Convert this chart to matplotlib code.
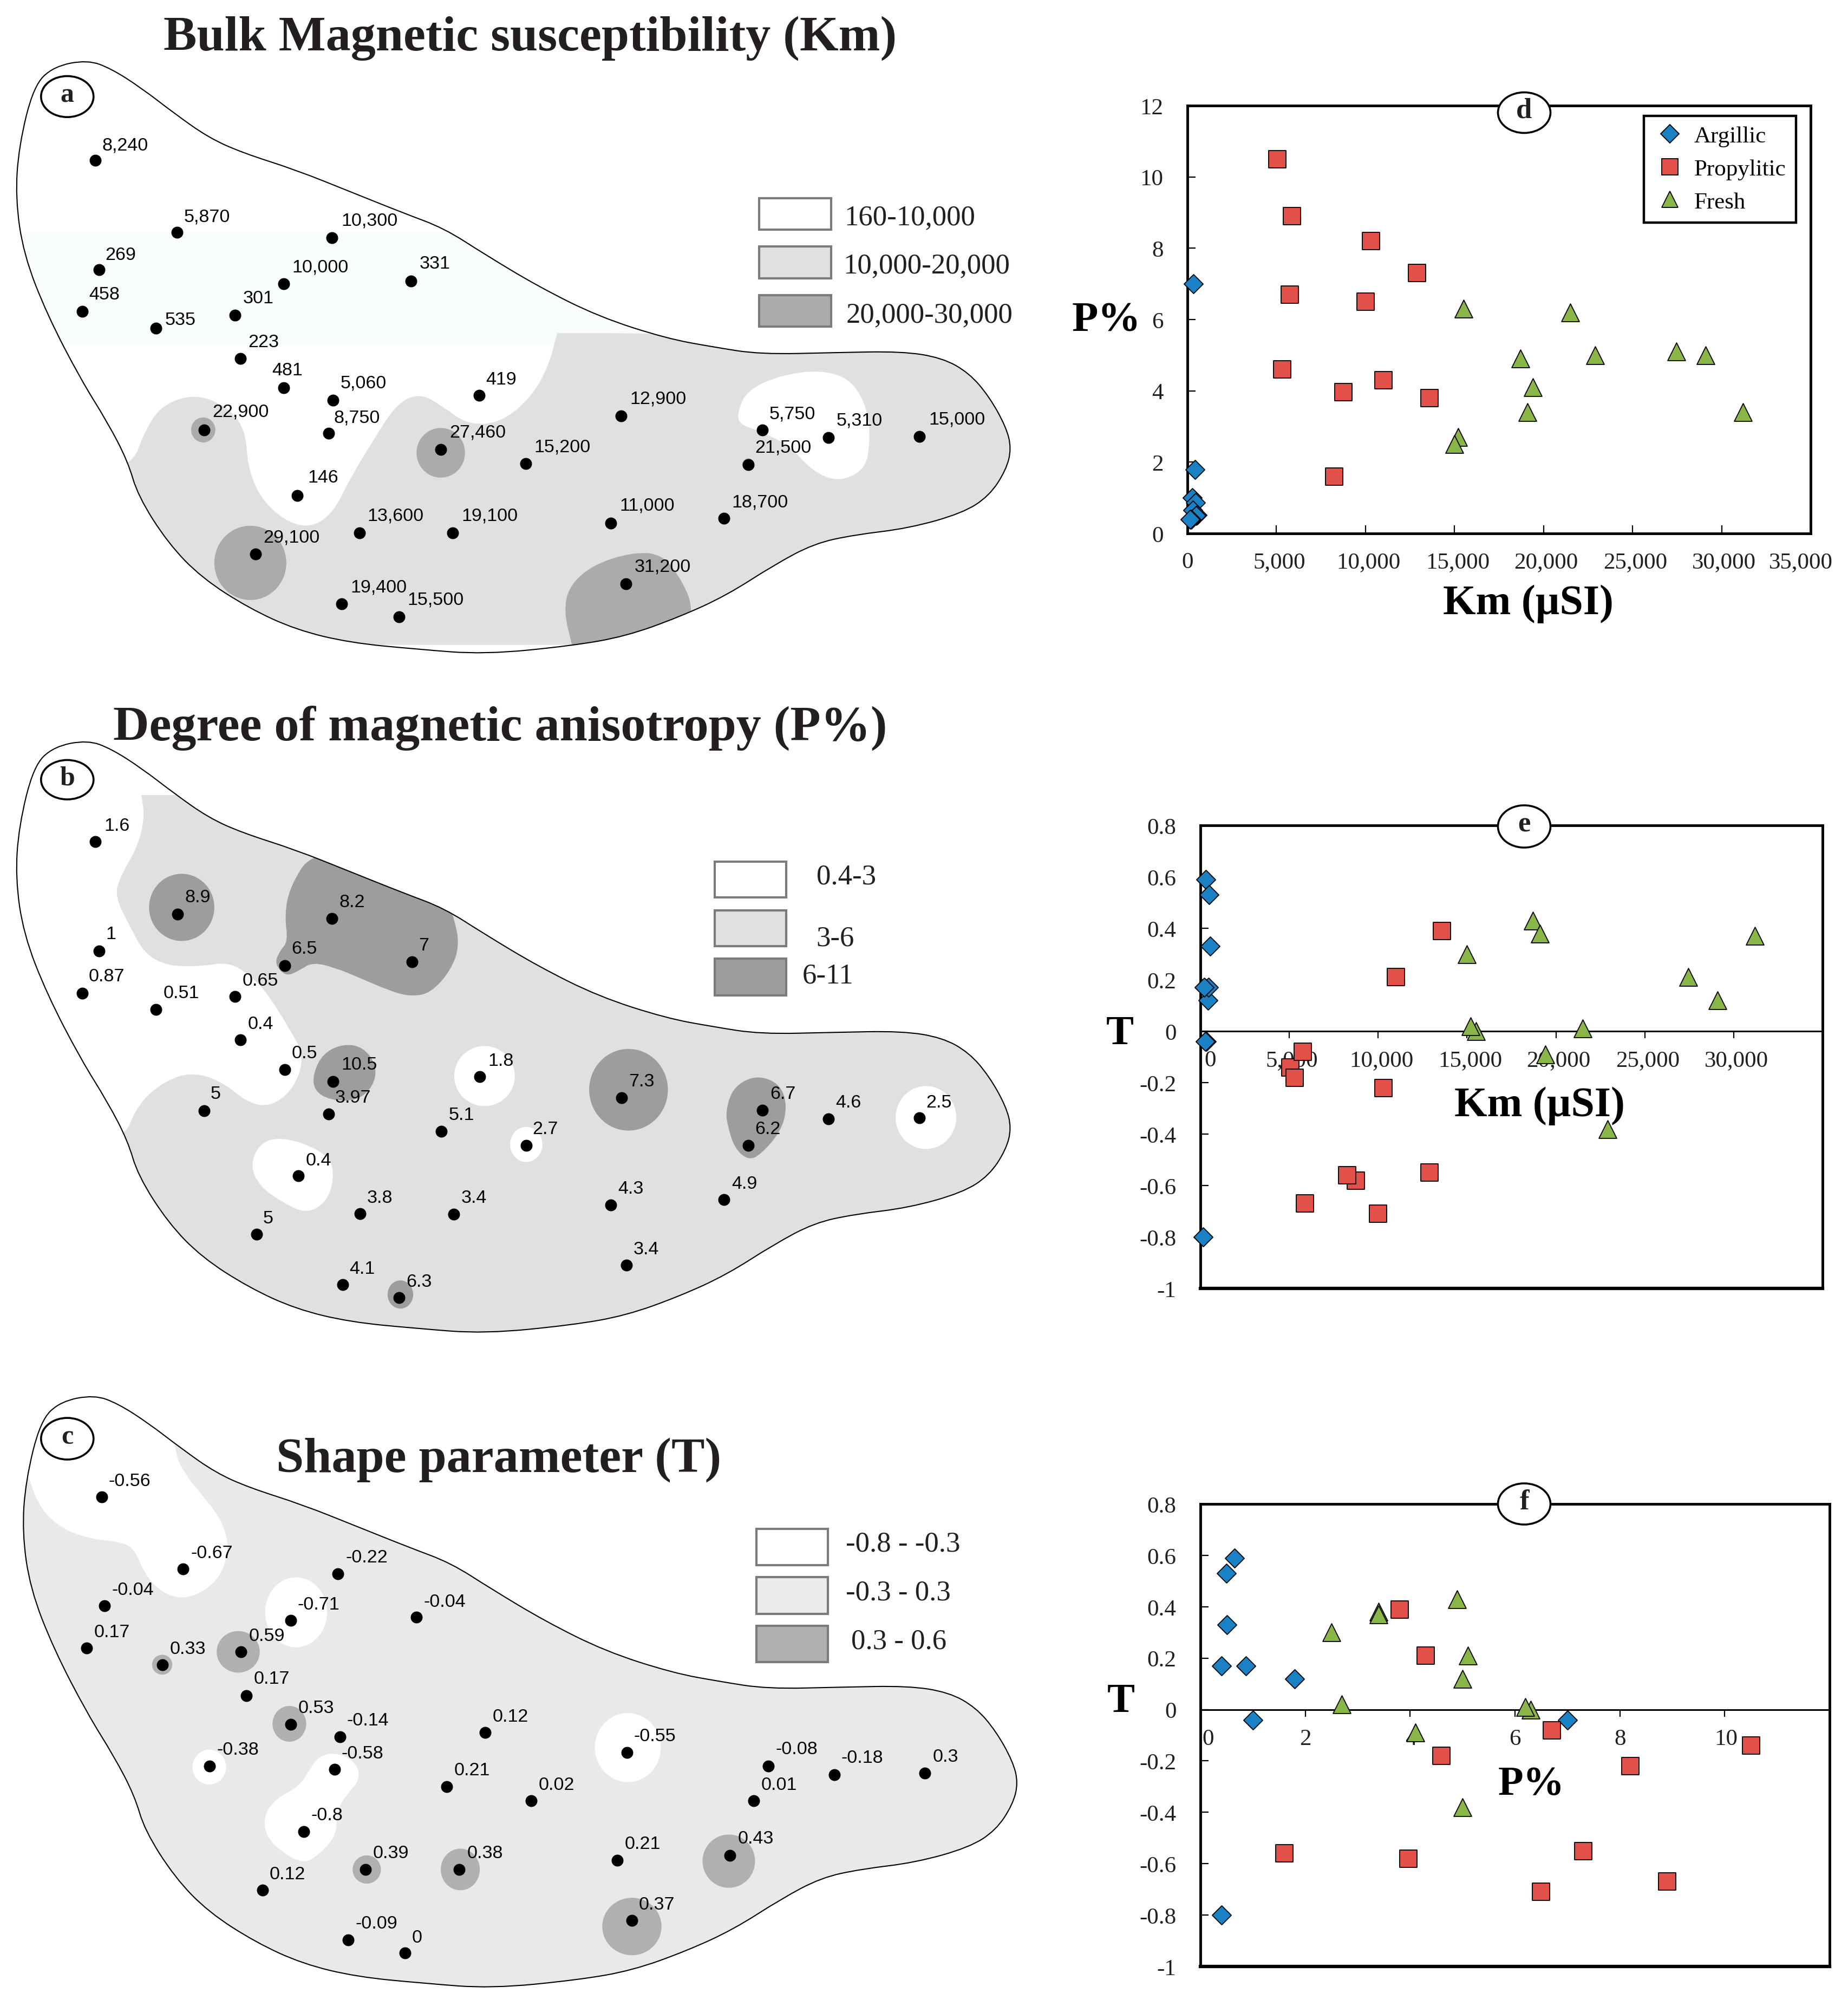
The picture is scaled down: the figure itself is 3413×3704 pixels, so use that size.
import numpy as np
import matplotlib
matplotlib.use("Agg")
import matplotlib.pyplot as plt
from matplotlib.patches import PathPatch, Ellipse, Rectangle
from matplotlib.path import Path
from matplotlib.transforms import ScaledTranslation

SERIF = "Liberation Serif"
SANS = "Liberation Sans"
INK = "#231f20"
W, H = 3413, 3705

# map outline, map a units
outline_x = np.array([130, 165, 210, 260, 310, 360, 440, 520, 600, 660, 720, 800, 890, 990, 1060, 1130, 1240, 1340,
                      1400, 1440, 1470, 1495, 1503, 1495, 1470, 1430, 1350, 1270, 1210, 1150, 1080, 1010, 930, 850,
                      720, 620, 520, 440, 370, 300, 250, 205, 190, 160, 120, 70, 35, 23, 28, 50, 80])
outline_y = np.array([140, 160, 205, 265, 320, 355, 395, 445, 495, 530, 590, 665, 735, 785, 805, 822, 818, 815,
                      830, 865, 920, 990, 1040, 1090, 1150, 1190, 1225, 1240, 1260, 1310, 1380, 1430, 1475, 1497,
                      1517, 1505, 1490, 1460, 1410, 1340, 1260, 1150, 1070, 980, 880, 730, 590, 460, 340, 200, 155])

# sites: map a
a_x = [142, 263, 493, 147, 422, 611, 122, 349, 232, 357, 422, 495, 712, 923, 303, 488, 655, 1133, 1231, 1366, 1112,
       781, 442, 534, 673, 380, 908, 1076, 508, 593, 930]
a_y = [373, 540, 552, 626, 658, 652, 723, 731, 761, 832, 900, 928, 917, 965, 997, 1005, 1043, 997, 1015, 1012, 1077,
       1075, 1149, 1235, 1235, 1284, 1213, 1202, 1400, 1430, 1354]
a_text = ["8,240", "5,870", "10,300", "269", "10,000", "331", "458", "301", "535", "223", "481", "5,060", "419",
          "12,900", "22,900", "8,750", "27,460", "5,750", "5,310", "15,000", "21,500", "15,200", "146", "13,600",
          "19,100", "29,100", "11,000", "18,700", "19,400", "15,500", "31,200"]
a_tx = [152, 273, 507, 156, 434, 623, 132, 361, 245, 369, 404, 506, 722, 936, 316, 496, 668, 1143, 1243, 1380, 1122,
        794, 457, 546, 686, 391, 921, 1087, 521, 605, 943]
a_ty = [335, 501, 510, 589, 618, 610, 681, 690, 740, 792, 857, 886, 878, 922, 953, 967, 1000, 957, 973, 970, 1035,
        1034, 1105, 1193, 1193, 1243, 1170, 1162, 1359, 1388, 1311]

# sites: map b
b_x = [142, 264, 493, 147, 612, 423, 122, 349, 232, 357, 423, 495, 713, 488, 303, 656, 782, 924, 1133, 1112, 1231,
       1366, 443, 535, 674, 908, 1076, 381, 931, 509, 593]
b_y = [359, 534, 545, 623, 650, 658, 725, 733, 765, 838, 909, 938, 927, 1017, 1009, 1058, 1093, 977, 1008, 1093,
       1028, 1026, 1166, 1257, 1258, 1236, 1223, 1307, 1381, 1428, 1460]
b_text = ["1.6", "8.9", "8.2", "1", "7", "6.5", "0.87", "0.65", "0.51", "0.4", "0.5", "10.5", "1.8", "3.97", "5",
          "5.1", "2.7", "7.3", "6.7", "6.2", "4.6", "2.5", "0.4", "3.8", "3.4", "4.3", "4.9", "5", "3.4", "4.1", "6.3"]
b_tx = [155, 275, 504, 157, 622, 433, 132, 360, 243, 368, 433, 507, 725, 498, 313, 667, 791, 934, 1144, 1122, 1242,
        1376, 454, 545, 685, 918, 1087, 391, 941, 519, 604]
b_ty = [319, 491, 503, 580, 607, 616, 682, 692, 723, 797, 867, 895, 886, 975, 966, 1017, 1051, 936, 966, 1051, 987,
        986, 1126, 1216, 1216, 1194, 1182, 1266, 1340, 1387, 1419]

# sites: map c
c_x = [151, 272, 502, 155, 432, 619, 129, 358, 241, 366, 432, 505, 721, 932, 311, 497, 1142, 1240, 1374, 664, 1120,
       789, 451, 917, 1085, 543, 682, 390, 517, 602, 939]
c_y = [345, 518, 530, 607, 642, 634, 708, 717, 748, 822, 891, 921, 911, 959, 991, 1000, 991, 1012, 1008, 1041, 1075,
       1075, 1149, 1218, 1206, 1240, 1240, 1290, 1409, 1441, 1363]
c_text = ["-0.56", "-0.67", "-0.22", "-0.04", "-0.71", "-0.04", "0.17", "0.59", "0.33", "0.17", "0.53", "-0.14",
          "0.12", "-0.55", "-0.38", "-0.58", "-0.08", "-0.18", "0.3", "0.21", "0.01", "0.02", "-0.8", "0.21", "0.43",
          "0.39", "0.38", "0.12", "-0.09", "0", "0.37"]
c_tx = [161, 284, 514, 166, 442, 630, 140, 370, 252, 377, 443, 515, 732, 942, 322, 507, 1153, 1250, 1386, 675, 1131,
        800, 462, 928, 1096, 554, 694, 400, 528, 612, 949]
c_ty = [304, 477, 488, 566, 601, 594, 668, 676, 708, 780, 850, 879, 870, 917, 950, 959, 949, 970, 967, 999, 1034,
        1034, 1107, 1176, 1163, 1198, 1198, 1249, 1367, 1401, 1322]

# zones: map a
a_mint = [(0, 540), (0, 540), (1000, 540), (1000, 540), (1000, 800), (1000, 800), (0, 800), (0, 800)]
a_mid = [(195, 1085), (215, 1000), (240, 940), (290, 913), (340, 945), (365, 1000), (368, 1080), (385, 1150),
         (420, 1205), (460, 1225), (495, 1190), (520, 1110), (555, 1020), (590, 935), (625, 912), (660, 945),
         (695, 985), (745, 980), (790, 920), (815, 850), (828, 773), (828, 773), (980, 773), (1200, 790), (1540, 800),
         (1540, 1495), (1540, 1495), (100, 1495), (100, 1495), (100, 1100)]
a_white = [(1095, 960), (1110, 905), (1160, 870), (1220, 858), (1265, 880), (1290, 950), (1293, 1030), (1285, 1090),
           (1245, 1118), (1205, 1090), (1175, 1035), (1130, 1000), (1100, 985)]
a_dark = [(850, 1495), (850, 1495), (838, 1420), (845, 1360), (880, 1310), (940, 1280), (985, 1285), (1015, 1350),
          (1030, 1410), (1020, 1500), (1020, 1500)]
a_dark_blobs = [(302, 997, 36, 58), (655, 1050, 72, 115), (1112, 1077, 18, 28), (372, 1305, 107, 172)]

# zones: map b
b_mid = [(210, 247), (210, 247), (300, 247), (400, 200), (1600, 400), (1600, 1600), (100, 1600), (100, 1075), (185, 1075),
         (200, 1010), (225, 960), (265, 922), (300, 920), (335, 945), (365, 985), (395, 1000), (425, 975), (445, 925),
         (450, 870), (430, 810), (395, 720), (370, 680), (340, 650), (300, 660), (250, 660), (215, 630), (195, 570),
         (170, 490), (180, 440), (205, 370), (215, 300)]
b_white = [(372, 1140), (385, 1090), (410, 1073), (450, 1085), (490, 1120), (497, 1170), (485, 1230), (455, 1257),
           (420, 1230), (385, 1190)]
b_white_blobs = [(720, 925, 90, 145), (782, 1090, 48, 85), (1376, 1025, 90, 152)]
b_dark_a = [(465, 380), (430, 470), (423, 540), (428, 600), (415, 625), (408, 655), (425, 685), (445, 670), (465, 650),
            (500, 665), (530, 685), (580, 720), (610, 733), (640, 725), (670, 670), (683, 610), (675, 545), (665, 505),
            (600, 380)]
b_dark_b = [(465, 920), (480, 870), (510, 847), (540, 855), (560, 900), (555, 950), (530, 985), (490, 983), (467, 960)]
b_dark_c = [(1078, 1010), (1090, 950), (1125, 922), (1160, 945), (1170, 1000), (1160, 1060), (1130, 1115), (1112, 1128),
            (1092, 1100), (1082, 1050)]
b_dark_blobs = [(270, 518, 97, 162), (934, 958, 117, 197), (595, 1452, 38, 68)]

# zones: map c
c_white_a = [(258, 235), (275, 290), (300, 340), (325, 390), (340, 450), (335, 510), (315, 560), (275, 592), (240, 575),
             (215, 530), (200, 470), (180, 453), (130, 445), (85, 415), (55, 360), (40, 280), (10, 280), (10, 60),
             (258, 60)]
c_white_b = [(460, 1000), (475, 965), (505, 960), (530, 985), (535, 1025), (515, 1060), (500, 1100), (500, 1160),
             (470, 1210), (450, 1225), (420, 1200), (395, 1160), (392, 1110), (410, 1070), (445, 1040)]
c_white_blobs = [(440, 622, 92, 168), (311, 994, 50, 84), (933, 947, 98, 166)]
c_dark_blobs = [(354, 717, 64, 100), (241, 748, 30, 48), (430, 890, 50, 86), (545, 1240, 42, 68), (684, 1240, 58, 100),
                (1083, 1220, 78, 128), (939, 1377, 88, 138)]

# scatter data
argillic_km = [331, 419, 269, 458, 301, 535, 481, 223, 146]
argillic_p = [7, 1.8, 1, 0.87, 0.65, 0.51, 0.5, 0.4, 0.4]
argillic_t = [-0.04, 0.12, -0.04, 0.17, 0.59, 0.33, 0.53, 0.17, -0.8]

propylitic_km = [5060, 5870, 10300, 12900, 5750, 10000, 5310, 11000, 8750, 13600, 8240]
propylitic_p = [10.5, 8.9, 8.2, 7.3, 6.7, 6.5, 4.6, 4.3, 3.97, 3.8, 1.6]
propylitic_t = [-0.14, -0.67, -0.22, -0.55, -0.08, -0.71, -0.18, 0.21, -0.58, 0.39, -0.56]

fresh_km = [15500, 21500, 18700, 22900, 27460, 29100, 19400, 19100, 31200, 15200, 15000]
fresh_p = [6.3, 6.2, 4.9, 5, 5.1, 5, 4.1, 3.4, 3.4, 2.7, 2.5]
fresh_t = [0, 0.01, 0.43, -0.38, 0.21, 0.12, -0.09, 0.38, 0.37, 0.02, 0.3]

km_ticks = [0, 5000, 10000, 15000, 20000, 25000, 30000, 35000]
km_labels = ["0", "5,000", "10,000", "15,000", "20,000", "25,000", "30,000", "35,000"]
km_ticks_short = km_ticks[:-1]
km_labels_short = km_labels[:-1]
p_ticks = [0, 2, 4, 6, 8, 10, 12]
p_ticks_short = [0, 2, 4, 6, 8, 10]
t_ticks = [-1, -0.8, -0.6, -0.4, -0.2, 0, 0.2, 0.4, 0.6, 0.8]
t_labels = ["-1", "-0.8", "-0.6", "-0.4", "-0.2", "0", "0.2", "0.4", "0.6", "0.8"]

BLUE = "#1a82c4"
RED = "#e2504a"
GREEN = "#8ab547"


def px_axes(fig, left, top, right, bottom):
    return fig.add_axes([left / W, 1 - bottom / H, (right - left) / W, (bottom - top) / H])


def map_axes(fig, left, top, right, bottom):
    ax = px_axes(fig, left, top, right, bottom)
    ax.set_xlim(0, 1569)
    ax.set_ylim(1568, 0)
    ax.axis("off")
    return ax


def smooth_path(points):
    # quadratic curves through the midpoints, the points act as control points
    pts = np.asarray(points, dtype=float)
    mids = (pts + np.roll(pts, -1, axis=0)) / 2
    verts = [mids[-1]]
    codes = [Path.MOVETO]
    for i in range(len(pts)):
        verts += [pts[i], mids[i]]
        codes += [Path.CURVE3, Path.CURVE3]
    return Path(verts, codes)


def add_zone(ax, border, points, color, order=2):
    p = PathPatch(smooth_path(points), fc=color, ec="none", zorder=order)
    ax.add_patch(p)
    p.set_clip_path(border)


def add_blobs(ax, border, blobs, color, order=3):
    for cx, cy, w, h in blobs:
        e = Ellipse((cx, cy), w, h, fc=color, ec="none", zorder=order)
        ax.add_patch(e)
        e.set_clip_path(border)


def add_sites(ax, xs, ys, labels, tx, ty):
    ax.scatter(xs, ys, s=250, c="black", linewidths=0, zorder=6)
    for t, x, y in zip(labels, tx, ty):
        ax.text(x, y + 2, t, family=SANS, fontsize=24.5, color="black", va="center", ha="left", zorder=7)


def add_legend(ax, top_list, bottom_list, left, right, colors, labels, label_x, label_y, size=38):
    for t, b, c, s, lx, ly in zip(top_list, bottom_list, colors, labels, label_x, label_y):
        ax.add_patch(Rectangle((left, t), right - left, b - t, fc=c, ec="#7b7b7b", lw=3, zorder=5))
        ax.text(lx, ly, s, family=SERIF, fontsize=size, color=INK, va="center", ha="left")


def add_badge(ax, x, y, w, h, s, size=36):
    ax.add_patch(Ellipse((x, y), w, h, fc="white", ec="black", lw=2.6, zorder=8))
    ax.text(x, y - 4, s, family=SERIF, weight="bold", fontsize=size, ha="center", va="center", color=INK, zorder=9)


def draw_points(ax, xs, ys):
    ax.scatter(xs[0], ys[0], marker="D", s=320, c=BLUE, edgecolors="black", linewidths=1.3, zorder=4, clip_on=False)
    ax.scatter(xs[1], ys[1], marker="s", s=560, c=RED, edgecolors="black", linewidths=1.3, zorder=4, clip_on=False)
    ax.scatter(xs[2], ys[2], marker="^", s=560, c=GREEN, edgecolors="black", linewidths=1.3, zorder=4, clip_on=False)


def shift_labels(labels, fig, offsets):
    for lab, dx in zip(labels, offsets):
        lab.set_transform(lab.get_transform() + ScaledTranslation(dx / 100, 0, fig.dpi_scale_trans))


def zero_axis(ax):
    # x axis runs along y=0, the box bottom is drawn separately
    ax.spines["bottom"].set_position(("data", 0))
    ax.spines["bottom"].set_linewidth(2.2)
    for side in ["top", "left", "right"]:
        ax.spines[side].set_linewidth(3.5)
    ax.axhline(-1, color="black", lw=4.5, clip_on=False, zorder=3)


fig = plt.figure(figsize=(W / 100, H / 100), dpi=100, facecolor="white")

# map a
ax_a = map_axes(fig, 0, 0, 1950, 1250)
a_outline = np.column_stack([outline_x, outline_y])
border_a = PathPatch(smooth_path(a_outline), fc="white", ec="none", zorder=1)
ax_a.add_patch(border_a)
add_zone(ax_a, border_a, a_mint, "#f8fdfc", 1.5)
add_zone(ax_a, border_a, a_mid, "#e0e0e0")
add_zone(ax_a, border_a, a_white, "white", 3)
add_zone(ax_a, border_a, a_dark, "#ababab", 3)
add_blobs(ax_a, border_a, a_dark_blobs, "#ababab")
ax_a.add_patch(PathPatch(smooth_path(a_outline), fc="none", ec="black", lw=1.5, zorder=5))
add_sites(ax_a, a_x, a_y, a_text, a_tx, a_ty)
add_legend(ax_a, [460, 572, 685], [533, 646, 758], 1128, 1235, ["white", "#e0e0e0", "#ababab"],
           ["160-10,000", "10,000-20,000", "20,000-30,000"], [1255, 1253, 1257], [505, 617, 730])
ax_a.text(243, 89, "Bulk Magnetic susceptibility (Km)", family=SERIF, weight="bold", fontsize=66.3, color=INK,
          va="center", ha="left")
add_badge(ax_a, 100, 225, 78, 95, "a")

# map b
ax_b = map_axes(fig, 0, 1280, 1950, 2480)
b_outline = np.column_stack([outline_x, (outline_y * 0.8 - 24) / 0.7692])
border_b = PathPatch(smooth_path(b_outline), fc="white", ec="none", zorder=1)
ax_b.add_patch(border_b)
add_zone(ax_b, border_b, b_mid, "#e0e0e0")
add_zone(ax_b, border_b, b_white, "white", 3)
add_blobs(ax_b, border_b, b_white_blobs, "white")
add_zone(ax_b, border_b, b_dark_a, "#9c9e9c", 3)
add_zone(ax_b, border_b, b_dark_b, "#9c9e9c", 3)
add_zone(ax_b, border_b, b_dark_c, "#9c9e9c", 3)
add_blobs(ax_b, border_b, b_dark_blobs, "#9c9e9c")
ax_b.add_patch(PathPatch(smooth_path(b_outline), fc="none", ec="black", lw=1.5, zorder=5))
add_sites(ax_b, b_x, b_y, b_text, b_tx, b_ty)
add_legend(ax_b, [408, 525, 642], [494, 612, 730], 1062, 1168, ["white", "#e0e0e0", "#9c9e9c"],
           ["0.4-3", "3-6", "6-11"], [1213, 1213, 1192], [443, 592, 683])
ax_b.text(168, 84, "Degree of magnetic anisotropy (P%)", family=SERIF, weight="bold", fontsize=66.3, color=INK,
          va="center", ha="left")
add_badge(ax_b, 100, 210, 78, 95, "b")

# map c
ax_c = map_axes(fig, 0, 2500, 1950, 3705)
c_outline = np.column_stack([outline_x + 10, (outline_y * 0.8 - 35) / 0.7724])
border_c = PathPatch(smooth_path(c_outline), fc="#e9e9e9", ec="none", zorder=1)
ax_c.add_patch(border_c)
add_zone(ax_c, border_c, c_white_a, "white", 3)
add_zone(ax_c, border_c, c_white_b, "white", 3)
add_blobs(ax_c, border_c, c_white_blobs, "white")
add_blobs(ax_c, border_c, c_dark_blobs, "#b0b0b0")
ax_c.add_patch(PathPatch(smooth_path(c_outline), fc="none", ec="black", lw=1.5, zorder=5))
add_sites(ax_c, c_x, c_y, c_text, c_tx, c_ty)
add_legend(ax_c, [421, 538, 655], [509, 626, 742], 1124, 1230, ["white", "#ebebeb", "#b0b0b0"],
           ["-0.8 - -0.3", "-0.3 - 0.3", "0.3 - 0.6"], [1257, 1257, 1265], [458, 575, 692])
ax_c.text(410, 254, "Shape parameter (T)", family=SERIF, weight="bold", fontsize=66.3, color=INK, va="center", ha="left")
add_badge(ax_c, 100, 205, 78, 100, "c")

# scatter d
ax_d = px_axes(fig, 2193, 196, 3344, 986)
draw_points(ax_d, [argillic_km, propylitic_km, fresh_km], [argillic_p, propylitic_p, fresh_p])
ax_d.set_xlim(0, 35000)
ax_d.set_ylim(0, 12)
ax_d.set_xticks(km_ticks, km_labels, family=SERIF, fontsize=31, color=INK)
ax_d.set_yticks(p_ticks, [str(v) for v in p_ticks], family=SERIF, fontsize=31, color=INK)
ax_d.tick_params(axis="x", direction="in", length=11, width=1.6, pad=24)
ax_d.tick_params(axis="y", direction="in", length=11, width=1.6, pad=32)
shift_labels(ax_d.get_xticklabels(), fig, [0, 5, 6, 6, 5, 5, 4, -18])
for s in ax_d.spines.values():
    s.set_linewidth(3.5)
handles = [
    plt.Line2D([], [], ls="none", marker="D", ms=17, mfc=BLUE, mec="black", mew=1.3),
    plt.Line2D([], [], ls="none", marker="s", ms=22, mfc=RED, mec="black", mew=1.3),
    plt.Line2D([], [], ls="none", marker="^", ms=22, mfc=GREEN, mec="black", mew=1.3),
]
leg = ax_d.legend(handles, ["Argillic", "Propylitic", "Fresh"], loc="upper right", bbox_to_anchor=(0.9765, 0.976),
                  fancybox=False, framealpha=1, edgecolor="black", prop={"family": SERIF, "size": 31},
                  labelspacing=0.5, handletextpad=0.35, borderpad=0.42, borderaxespad=0, handlelength=1.4)
leg.get_frame().set_linewidth(3.2)

# scatter e
ax_e = px_axes(fig, 2217, 1525, 3366, 2380)
draw_points(ax_e, [argillic_km, propylitic_km, fresh_km], [argillic_t, propylitic_t, fresh_t])
zero_axis(ax_e)
ax_e.set_xlim(0, 35000)
ax_e.set_ylim(-1, 0.8)
ax_e.set_xticks(km_ticks_short, km_labels_short, family=SERIF, fontsize=31, color=INK)
ax_e.set_yticks(t_ticks, t_labels, family=SERIF, fontsize=31, color=INK)
ax_e.tick_params(axis="x", direction="out", length=9, width=1.6, pad=16)
ax_e.tick_params(axis="y", direction="in", length=11, width=1.6, pad=32)
shift_labels(ax_e.get_xticklabels(), fig, [18, 5, 6, 6, 5, 5, 5])

# scatter f
ax_f = px_axes(fig, 2217, 2778, 3379, 3632)
draw_points(ax_f, [argillic_p, propylitic_p, fresh_p], [argillic_t, propylitic_t, fresh_t])
zero_axis(ax_f)
ax_f.set_xlim(0, 12)
ax_f.set_ylim(-1, 0.8)
ax_f.set_xticks(p_ticks_short, [str(v) for v in p_ticks_short], family=SERIF, fontsize=31, color=INK)
ax_f.set_yticks(t_ticks, t_labels, family=SERIF, fontsize=31, color=INK)
ax_f.tick_params(axis="x", direction="out", length=9, width=1.6, pad=16)
ax_f.tick_params(axis="y", direction="in", length=11, width=1.6, pad=32)
shift_labels(ax_f.get_xticklabels(), fig, [14, 0, 2, 0, 0, 2])

# labels that sit on top of everything, figure pixels
top = fig.add_axes([0, 0, 1, 1], facecolor="none")
top.set_xlim(0, W)
top.set_ylim(H, 0)
top.axis("off")
add_badge(top, 2825 - 10, 209, 97, 75, "d", 38)
add_badge(top, 2825 - 10, 1527, 97, 78, "e", 38)
add_badge(top, 2825 - 10, 2778, 97, 76, "f", 38)
for x, y, s, size in [(2043, 593, "P%", 57), (2822, 1115, "Km (\u00b5SI)", 56), (2068, 1910, "T", 55),
                      (2843, 2042, "Km (\u00b5SI)", 56), (2070, 3143, "T", 55), (2828, 3296, "P%", 55)]:
    top.text(x, y, s, family=SERIF, weight="bold", fontsize=size, color="black", ha="center", va="center")

fig.savefig("out.png", dpi=100)
